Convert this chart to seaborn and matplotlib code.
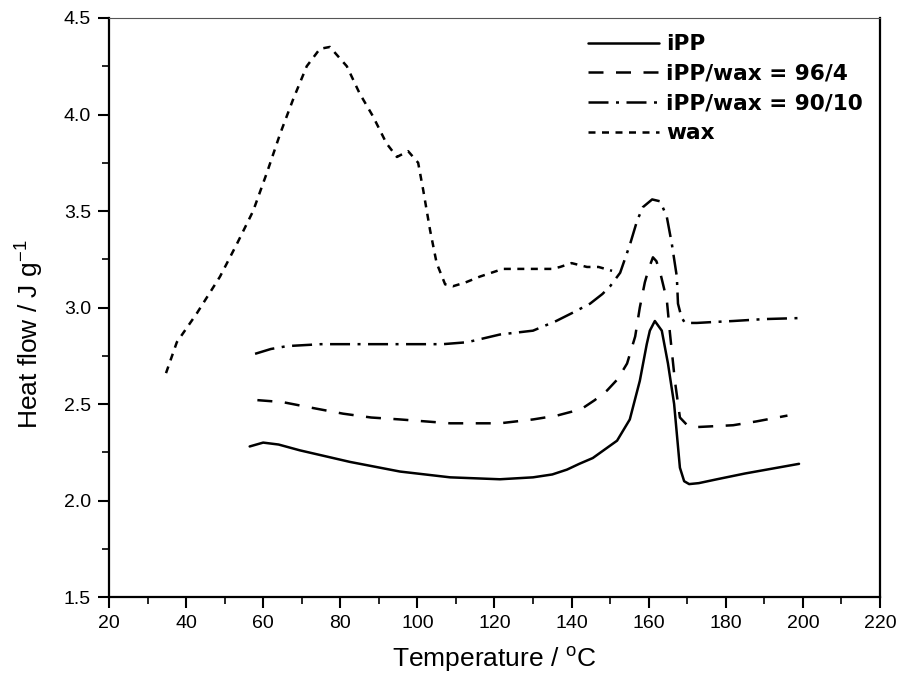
import numpy as np
import pandas as pd
import seaborn as sb
import matplotlib
matplotlib.use("Agg")
import matplotlib.pyplot as plt
from matplotlib.ticker import MultipleLocator

#### data
ipp_T = [56.5, 60, 64, 69.5, 76, 82.5, 89, 95.5, 102, 108.5, 115, 121.4, 130, 135, 138.8, 142, 145.5, 149, 151.8, 155.1,
         157.7, 159.5, 160.3, 161.6, 163.4, 165, 166.6, 168.1, 169.2, 170.5, 173, 177.7, 185, 192, 199]
ipp_H = [2.28, 2.30, 2.29, 2.26, 2.23, 2.20, 2.175, 2.15, 2.135, 2.12, 2.115, 2.11, 2.12, 2.135, 2.16, 2.19, 2.22, 2.27, 2.31, 2.42,
         2.62, 2.81, 2.88, 2.93, 2.88, 2.71, 2.50, 2.17, 2.10, 2.085, 2.09, 2.11, 2.14, 2.165, 2.19]

w96_T = [58.5, 65, 72.7, 80.7, 88, 95.5, 102, 108.5, 115, 121.4, 130, 136.2, 140, 143, 146, 149.2, 152, 154.4, 156.5,
         157.7, 159, 160, 161.1, 162, 163, 164.7, 165.5, 166.8, 168.1, 170, 172, 177, 181.9, 188, 196]
w96_H = [2.52, 2.51, 2.48, 2.45, 2.43, 2.42, 2.41, 2.40, 2.40, 2.40, 2.42, 2.44, 2.46, 2.48, 2.52, 2.57, 2.63, 2.71, 2.85,
         3.00, 3.13, 3.20, 3.26, 3.24, 3.18, 3.04, 2.87, 2.62, 2.43, 2.39, 2.38, 2.385, 2.39, 2.41, 2.44]

w90_T = [57.9, 62, 66.2, 75, 83.3, 95, 106.6, 112.9, 121.4, 130, 136, 140, 144.8, 148, 150, 152.6, 155.2, 157, 158.5,
         160.9, 163, 164.7, 166, 167.3, 167.6, 168.5, 169.4, 172.5, 177, 181.9, 190, 198.7]
w90_H = [2.76, 2.785, 2.80, 2.81, 2.81, 2.81, 2.81, 2.82, 2.86, 2.88, 2.93, 2.97, 3.02, 3.07, 3.11, 3.18, 3.33, 3.45, 3.52,
         3.56, 3.55, 3.47, 3.33, 3.16, 3.02, 2.95, 2.92, 2.92, 2.925, 2.93, 2.94, 2.945]

wax_T = [34.8, 37.6, 42.8, 48.8, 53.2, 57.4, 61, 64.4, 67.8, 71.3, 74.7, 77.3, 81.7, 85, 88.5, 92, 94.7, 97.6, 100.2,
         101.5, 103.3, 105, 107.2, 109.2, 112.5, 116.2, 122.2, 127, 131.8, 135, 137, 140, 144, 147, 150.5]
wax_H = [2.66, 2.82, 2.97, 3.16, 3.33, 3.50, 3.70, 3.90, 4.08, 4.25, 4.34, 4.35, 4.25, 4.11, 3.99, 3.85, 3.78, 3.81, 3.75,
         3.61, 3.40, 3.23, 3.12, 3.11, 3.13, 3.16, 3.20, 3.20, 3.20, 3.20, 3.21, 3.23, 3.21, 3.21, 3.19]

labels = ["iPP", "iPP/wax = 96/4", "iPP/wax = 90/10", "wax"]
series = [(ipp_T, ipp_H), (w96_T, w96_H), (w90_T, w90_H), (wax_T, wax_H)]
lnst = ["-", (0, (6, 5)), (0, (8, 3, 1.2, 3)), (0, (2.8, 2.6))]
##################

sb.set_style("ticks")
plt.rcParams['font.family'] = ['Liberation Sans', 'DejaVu Sans']
plt.rcParams['mathtext.default'] = 'regular'
plt.rcParams['text.color'] = 'black'
plt.rcParams['axes.labelcolor'] = 'black'

fig = plt.figure(figsize=(9.02, 6.87), dpi=100)
ax = fig.add_axes([0.1208, 0.131, 0.8548, 0.8428])

for i in range(len(labels)):
	df = pd.DataFrame({"T": series[i][0], "H": series[i][1]})
	sb.lineplot(data=df, x="T", y="H", ax=ax, color="black", linewidth=1.8,
				linestyle=lnst[i], label=labels[i], estimator=None, sort=False)

ax.set_xlim(20, 220)
ax.set_ylim(1.5, 4.5)
ax.xaxis.set_major_locator(MultipleLocator(20))
ax.xaxis.set_minor_locator(MultipleLocator(10))
ax.yaxis.set_major_locator(MultipleLocator(0.5))
ax.yaxis.set_minor_locator(MultipleLocator(0.25))
ax.yaxis.set_major_formatter(matplotlib.ticker.FormatStrFormatter('%.1f'))

ax.tick_params(which='major', direction='out', length=8, width=1.5, labelsize=14, colors='black', pad=5)
ax.tick_params(which='minor', direction='out', length=5, width=1.2, colors='black')
for s in ['left', 'bottom', 'right']:
	ax.spines[s].set_linewidth(1.6)
	ax.spines[s].set_color('black')
ax.spines['top'].set_linewidth(0.8)
ax.spines['top'].set_color('#555555')

ax.set_xlabel("Temperature / $^{o}$C", fontsize=19, labelpad=9)
ax.set_ylabel("Heat flow / J g$^{-1}$", fontsize=19)
ax.yaxis.set_label_coords(-0.082, 0.454)

leg = ax.legend(loc='upper left', frameon=False, handlelength=3.3, handletextpad=0.3,
				labelspacing=0.45, borderpad=0, borderaxespad=0, bbox_to_anchor=(0.621, 0.972),
				prop={'family': 'DejaVu Sans', 'weight': 'bold', 'size': 15.6})
for t in leg.get_texts():
	t.set_color('black')

fig.savefig("out.png", dpi=100)
